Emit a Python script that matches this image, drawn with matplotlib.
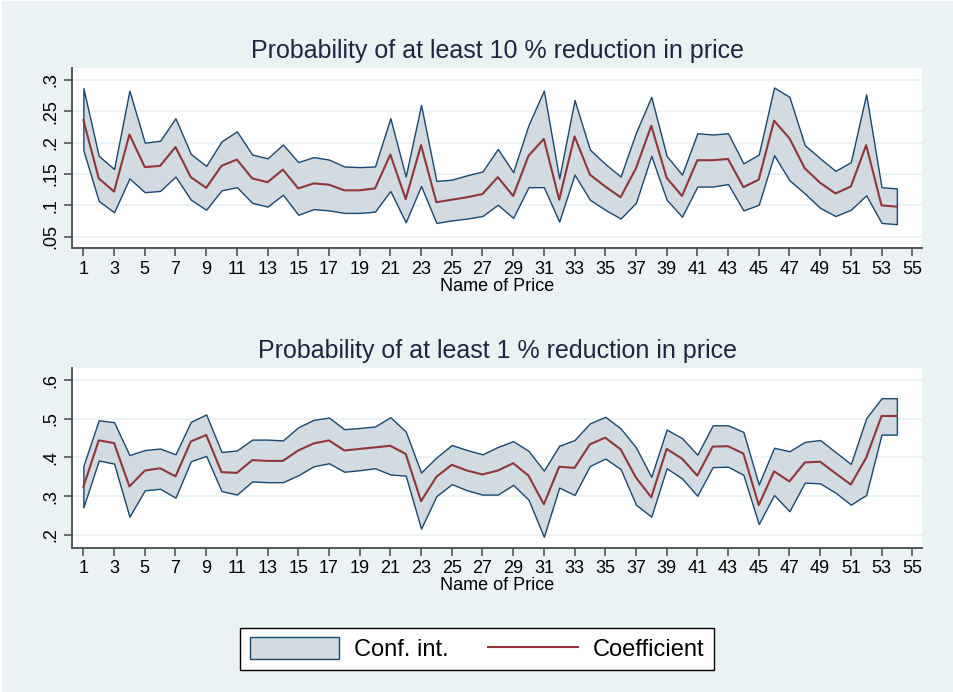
import matplotlib
matplotlib.use("Agg")
import matplotlib.pyplot as plt
from matplotlib.patches import Patch, Rectangle
from matplotlib.lines import Line2D
from matplotlib.ticker import FuncFormatter

plt.rcParams['font.family'] = ['Liberation Sans', 'DejaVu Sans']

prices = list(range(1, 55))

# at least 10 % reduction
upper10 = [0.287, 0.179, 0.158, 0.283, 0.200, 0.203, 0.239, 0.182, 0.163, 0.202,
           0.218, 0.181, 0.175, 0.197, 0.169, 0.177, 0.173, 0.162, 0.161, 0.162,
           0.239, 0.146, 0.260, 0.139, 0.141, 0.148, 0.154, 0.190, 0.153, 0.228,
           0.283, 0.143, 0.268, 0.189, 0.166, 0.146, 0.216, 0.273, 0.179, 0.149,
           0.215, 0.213, 0.215, 0.167, 0.181, 0.288, 0.273, 0.196, 0.175, 0.155,
           0.169, 0.277, 0.129, 0.127]
coef10 = [0.236, 0.143, 0.122, 0.213, 0.161, 0.163, 0.193, 0.145, 0.128, 0.163,
          0.173, 0.143, 0.137, 0.157, 0.127, 0.135, 0.133, 0.124, 0.124, 0.127,
          0.181, 0.110, 0.196, 0.105, 0.109, 0.113, 0.118, 0.145, 0.115, 0.179,
          0.206, 0.109, 0.210, 0.149, 0.130, 0.113, 0.159, 0.227, 0.144, 0.115,
          0.172, 0.172, 0.174, 0.129, 0.141, 0.235, 0.207, 0.159, 0.136, 0.119,
          0.130, 0.196, 0.100, 0.098]
lower10 = [0.188, 0.107, 0.089, 0.143, 0.121, 0.123, 0.146, 0.109, 0.093, 0.124,
           0.129, 0.104, 0.098, 0.117, 0.085, 0.094, 0.092, 0.088, 0.088, 0.090,
           0.123, 0.073, 0.131, 0.072, 0.076, 0.079, 0.083, 0.101, 0.080, 0.129,
           0.129, 0.074, 0.149, 0.109, 0.093, 0.079, 0.104, 0.179, 0.109, 0.082,
           0.130, 0.130, 0.134, 0.092, 0.101, 0.180, 0.140, 0.119, 0.096, 0.083,
           0.093, 0.116, 0.072, 0.070]

# at least 1 % reduction
upper1 = [0.378, 0.496, 0.491, 0.406, 0.419, 0.423, 0.408, 0.492, 0.511, 0.414,
          0.418, 0.446, 0.446, 0.444, 0.478, 0.497, 0.503, 0.473, 0.476, 0.480,
          0.504, 0.467, 0.361, 0.400, 0.432, 0.419, 0.408, 0.427, 0.442, 0.417,
          0.366, 0.430, 0.445, 0.488, 0.505, 0.475, 0.426, 0.350, 0.472, 0.450,
          0.407, 0.483, 0.483, 0.466, 0.330, 0.425, 0.416, 0.440, 0.445, 0.414,
          0.383, 0.501, 0.553, 0.553]
coef1 = [0.324, 0.444, 0.437, 0.325, 0.366, 0.372, 0.351, 0.441, 0.458, 0.362,
         0.360, 0.393, 0.391, 0.391, 0.418, 0.436, 0.444, 0.418, 0.422, 0.426,
         0.430, 0.409, 0.287, 0.350, 0.381, 0.366, 0.356, 0.366, 0.385, 0.353,
         0.279, 0.376, 0.373, 0.434, 0.451, 0.421, 0.348, 0.297, 0.422, 0.397,
         0.353, 0.428, 0.429, 0.410, 0.277, 0.364, 0.338, 0.387, 0.389, 0.359,
         0.330, 0.399, 0.507, 0.507]
lower1 = [0.271, 0.392, 0.384, 0.247, 0.315, 0.319, 0.296, 0.390, 0.404, 0.313,
          0.304, 0.338, 0.336, 0.336, 0.354, 0.377, 0.385, 0.363, 0.367, 0.372,
          0.356, 0.353, 0.216, 0.300, 0.331, 0.315, 0.304, 0.304, 0.329, 0.291,
          0.195, 0.322, 0.303, 0.378, 0.397, 0.370, 0.278, 0.247, 0.372, 0.346,
          0.301, 0.375, 0.376, 0.355, 0.228, 0.303, 0.261, 0.335, 0.333, 0.309,
          0.278, 0.303, 0.459, 0.459]

xticks = list(range(1, 56, 2))
yticks10 = [0.05, 0.1, 0.15, 0.2, 0.25, 0.3]
yticks1 = [0.2, 0.3, 0.4, 0.5, 0.6]

bg = '#eaf2f3'
ci_fill = '#d2dbe2'
ci_edge = '#1a476f'
coef_col = '#90353b'
axis_col = '#555555'
title_col = '#1c2841'

fig = plt.figure(figsize=(9.54, 6.92), dpi=100, facecolor=bg)


def no_zero(v, pos):
    s = f"{v:g}"
    return s[1:] if s.startswith('0.') else s


def panel(rect, upper, coef, lower, yticks, ylim, title):
    ax = fig.add_axes(rect)
    ax.set_facecolor('white')
    ax.fill_between(prices, lower, upper, facecolor=ci_fill,
                    edgecolor=ci_edge, linewidth=1.0, zorder=2)
    ax.plot(prices, coef, color=coef_col, linewidth=1.5, zorder=3)
    ax.set_xlim(0.26, 55.64)
    ax.set_ylim(*ylim)
    ax.set_xticks(xticks)
    ax.set_yticks(yticks)
    ax.yaxis.set_major_formatter(FuncFormatter(no_zero))
    ax.grid(axis='y', color=bg, linewidth=1.3, zorder=1)
    ax.set_axisbelow(True)
    for side in ('top', 'right'):
        ax.spines[side].set_visible(False)
    for side in ('left', 'bottom'):
        ax.spines[side].set_color(axis_col)
        ax.spines[side].set_linewidth(1.4)
    ax.tick_params(axis='both', colors=axis_col, labelcolor='black',
                   labelsize=13, length=6, width=1.2, pad=3)
    ax.tick_params(axis='y', labelrotation=90)
    for lab in ax.get_yticklabels():
        lab.set_va('center')
    ax.set_xlabel('Name of Price', fontsize=13, labelpad=0)
    ax.set_title(title, fontsize=18, color=title_col, pad=7)
    return ax


panel([0.0755, 0.6416, 0.891, 0.2601], upper10, coef10, lower10,
      yticks10, (0.032, 0.319), 'Probability of at least 10 % reduction in price')
panel([0.0755, 0.2081, 0.891, 0.2601], upper1, coef1, lower1,
      yticks1, (0.166, 0.631), 'Probability of at least 1 % reduction in price')

handles = [Patch(facecolor=ci_fill, edgecolor=ci_edge, linewidth=1.0),
           Line2D([], [], color=coef_col, linewidth=1.5)]
leg = fig.legend(handles, ['Conf. int.', 'Coefficient'], ncol=2,
                 loc='center', bbox_to_anchor=(0.5, 0.0621),
                 fontsize=17, frameon=True, fancybox=False,
                 edgecolor='black', facecolor='white', framealpha=1,
                 handlelength=3.8, handleheight=1.05, handletextpad=0.64,
                 columnspacing=1.65, borderpad=0.4)
leg.get_frame().set_linewidth(1.0)

# thin white frame along the top and left of the graph region
fig.patches.append(Rectangle((0, 0.998), 1, 0.002, transform=fig.transFigure,
                             facecolor='white', edgecolor='none'))
fig.patches.append(Rectangle((0, 0), 0.002, 1, transform=fig.transFigure,
                             facecolor='white', edgecolor='none'))

fig.savefig('out.png', dpi=100, facecolor=bg)
